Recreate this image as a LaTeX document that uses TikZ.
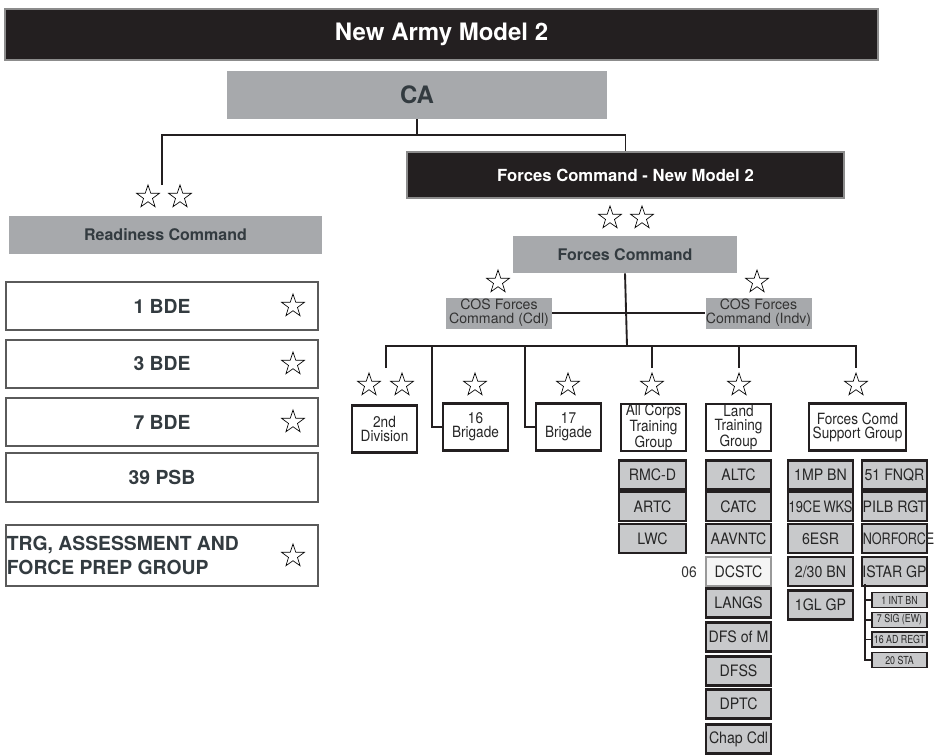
\documentclass[tikz,border=0pt]{standalone}
\usepackage{fontspec}
\setmainfont{TeX Gyre Heros}
\newfontfamily\unitfont[FakeStretch=0.88]{TeX Gyre Heros}
\newfontfamily\subfont[FakeStretch=0.9]{TeX Gyre Heros}
\newfontfamily\squeezefont[FakeStretch=0.82]{TeX Gyre Heros}
\newfontfamily\tagfont[FakeStretch=0.8]{TeX Gyre Heros}
\usetikzlibrary{shapes.geometric}
\definecolor{barblack}{HTML}{231F20}
\definecolor{headgray}{HTML}{A7A9AC}
\definecolor{subgray}{HTML}{C8C9CB}
\definecolor{txtdark}{HTML}{333B40}
\definecolor{edgegray}{HTML}{5A5A5A}

\begin{document}
\begin{tikzpicture}[x=0.75pt,y=0.75pt,yscale=-1,xscale=1,
  darkbar/.style={fill=barblack,draw=black!45,line width=1.1pt,text=white,inner sep=0pt},
  headbox/.style={fill=headgray,text=txtdark,inner sep=0pt,font=\bfseries\fontsize{12}{14}\selectfont},
  cosbox/.style={fill=headgray,text=black!80,inner sep=0pt,align=center,minimum width=79.5pt,minimum height=23.25pt,font=\fontsize{10.6}{10.8}\selectfont},
  bdebox/.style={draw=edgegray,line width=1pt,fill=white,text=txtdark,inner sep=0pt,minimum width=234pt,minimum height=36pt,font=\bfseries\fontsize{14.5}{18.5}\selectfont},
  unitbox/.style={draw=barblack,line width=1.6pt,fill=white,text=black!85,inner sep=0pt,align=center,minimum width=48.75pt,minimum height=35.25pt,font=\unitfont\fontsize{11.6}{10.6}\selectfont},
  subbox/.style={draw=barblack,line width=1.6pt,fill=subgray,text=black!85,inner sep=0pt,minimum width=48.75pt,minimum height=21.75pt,font=\subfont\fontsize{11.8}{12}\selectfont},
  dcbox/.style={subbox,draw=black!40,line width=1pt,fill=black!4},
  tagbox/.style={draw=barblack,line width=1.3pt,fill=subgray,text=black!85,inner sep=0pt,minimum width=41.25pt,minimum height=11.25pt,font=\tagfont\fontsize{8.3}{9}\selectfont},
  starmark/.style={star,star points=5,star point ratio=2.55,draw=black,line width=0.5pt,inner sep=0pt,minimum size=18pt},
  link/.style={draw=barblack,line width=1.4pt}]
\useasboundingbox (0,0) rectangle (937,754);

% Title bar
\node (title) [darkbar, minimum width=654.75pt, minimum height=38.25pt, font=\bfseries\fontsize{18}{20}\selectfont] at (441.5,34.5) {New Army Model 2};
% CA
\node (ca) [headbox, minimum width=285pt, minimum height=36pt, font=\bfseries\fontsize{18}{20}\selectfont] at (417,95) {CA};
% Forces Command - New Model 2
\node (fcnm) [darkbar, minimum width=327.75pt, minimum height=34.5pt, font=\bfseries\fontsize{12.5}{14}\selectfont] at (625.5,175) {Forces Command - New Model 2};

% Readiness Command side
\node (st-rc1) [starmark] at (148,197) {};
\node (st-rc2) [starmark] at (180,197) {};
\node (rc) [headbox, minimum width=234.75pt, minimum height=28.5pt] at (165.5,235) {Readiness Command};

\node (bde1) [bdebox] at (162,306) {1 BDE};
\node (st-bde1) [starmark] at (293,306) {};
\node (bde3) [bdebox] at (162,364) {3 BDE};
\node (st-bde3) [starmark] at (293,364) {};
\node (bde7) [bdebox] at (162,422) {7 BDE};
\node (st-bde7) [starmark] at (293,422) {};
\node (psb) [bdebox, minimum height=36.75pt] at (162,477.5) {39 PSB};
\node (trg) [bdebox, minimum height=45.75pt] at (162,555.5) {};
\node (trg-txt) [anchor=west, inner sep=0pt, align=left, text=txtdark, font=\bfseries\fontsize{14.5}{18.5}\selectfont] at ([xshift=1pt]trg.west) {TRG, ASSESSMENT AND\\FORCE PREP GROUP};
\node (st-trg) [starmark] at (293,556) {};

% Forces Command
\node (st-fc1) [starmark] at (610,218) {};
\node (st-fc2) [starmark] at (642,218) {};
\node (fc) [headbox, minimum width=168pt, minimum height=27.75pt] at (625,254.5) {Forces Command};
\node (cosc) [cosbox] at (499,313) {COS Forces\\Command (Cdl)};
\node (st-cosc) [starmark] at (498,282) {};
\node (cosi) [cosbox] at (758.5,313) {COS Forces\\Command (Indv)};
\node (st-cosi) [starmark] at (757,282) {};

% Formations
\node (st-div2a) [starmark] at (369,385) {};
\node (st-div2b) [starmark] at (402,385) {};
\node (div2) [unitbox] at (384.5,429) {2nd\\Division};
\node (st-bde16) [starmark] at (475,385) {};
\node (bde16) [unitbox] at (475.5,427) {16\\Brigade};
\node (st-bde17) [starmark] at (568,385) {};
\node (bde17) [unitbox] at (568.5,427) {17\\Brigade};
\node (st-actg) [starmark] at (652,385) {};
\node (actg) [unitbox] at (653.5,427.5) {All Corps\\Training\\Group};
\node (st-ltg) [starmark] at (739,385) {};
\node (ltg) [unitbox] at (738.5,427.5) {Land\\Training\\Group};
\node (st-fcsg) [starmark] at (856,385) {};
\node (fcsg) [unitbox, minimum width=72.75pt] at (857.5,427) {Forces Comd\\Support Group};

% All Corps Training Group units
\node (rmcd) [subbox, minimum width=50.25pt] at (652.5,475) {RMC-D};
\node (artc) [subbox, minimum width=50.25pt] at (652.5,506.5) {ARTC};
\node (lwc) [subbox, minimum width=50.25pt] at (652.5,538.5) {LWC};

% Land Training Group units
\node (altc) [subbox] at (738.5,475) {ALTC};
\node (catc) [subbox] at (738.5,506.5) {CATC};
\node (aavntc) [subbox] at (738.5,538.5) {AAVNTC};
\node (dcstc) [dcbox] at (738.5,571.5) {DCSTC};
\node (tag06) [anchor=east, inner sep=0pt, text=black!80, font=\subfont\fontsize{11.5}{12}\selectfont] at (697,572) {06};
\node (langs) [subbox] at (738.5,603) {LANGS};
\node (dfsm) [subbox] at (738.5,637) {\makebox[0pt]{DFS of M}};
\node (dfss) [subbox] at (738.5,671) {DFSS};
\node (dptc) [subbox] at (738.5,704) {DPTC};
\node (chap) [subbox] at (738.5,739) {\makebox[0pt]{Chap Cdl}};

% Forces Comd Support Group units
\node (mpbn) [subbox] at (820.5,475) {1MP BN};
\node (cewks) [subbox] at (820.5,506.5) {\makebox[0pt]{\squeezefont 19CE\,WKS}};
\node (esr6) [subbox] at (820.5,538.5) {6ESR};
\node (bn230) [subbox] at (820.5,571.5) {2/30 BN};
\node (glgp) [subbox] at (820.5,605) {1GL GP};
\node (fnqr) [subbox] at (894.5,475) {51 FNQR};
\node (pilb) [subbox] at (894.5,506.5) {\makebox[0pt]{PILB RGT}};
\node (norforce) [subbox] at (894.5,538.5) {\makebox[0pt][l]{\hspace*{-23.8pt}\tagfont NORFORCE}};
\node (istar) [subbox] at (894.5,571.5) {\makebox[0pt]{ISTAR GP}};
\node (intbn) [tagbox] at (899.5,600) {1 INT BN};
\node (sigew) [tagbox] at (899.5,620) {7 SIG (EW)};
\node (adregt) [tagbox] at (899.5,639.5) {\makebox[0pt]{16 AD REGT}};
\node (sta20) [tagbox] at (899.5,660) {20 STA};

% Connectors: top level
\coordinate (rc-top) at (162,185);
\draw[link] (ca.south) -- ++(0,16) coordinate (ca-bus);
\draw[link] (rc-top) |- (ca-bus) -| (fcnm.north);

% Connectors: Forces Command
\coordinate (bus) at (627,346);
\draw[link] (fc.south) -- (bus);
\draw[link] (cosc.east) -- (cosi.west);
\coordinate (div2-top) at (386,368);
\coordinate (actg-top) at (652,368);
\coordinate (ltg-top) at (739,368);
\coordinate (fcsg-top) at (856,368);
\draw[link] (div2-top) |- (fcsg-top |- bus) -- (fcsg-top);
\draw[link] (actg-top) -- (actg-top |- bus);
\draw[link] (ltg-top) -- (ltg-top |- bus);
\coordinate (bde16-drop) at (432,346);
\draw[link] (bde16-drop) |- (bde16.west);
\coordinate (bde17-drop) at (525,346);
\draw[link] (bde17-drop) |- (bde17.west);

% Connectors: ISTAR GP
\coordinate (istar-stem) at (865,584);
\draw[link, line width=1.2pt] (istar-stem) |- (sta20.west);
\draw[link, line width=1.2pt] (intbn.west) -- (intbn.west -| istar-stem);
\draw[link, line width=1.2pt] (sigew.west) -- (sigew.west -| istar-stem);
\draw[link, line width=1.2pt] (adregt.west) -- (adregt.west -| istar-stem);

\end{tikzpicture}
\end{document}
